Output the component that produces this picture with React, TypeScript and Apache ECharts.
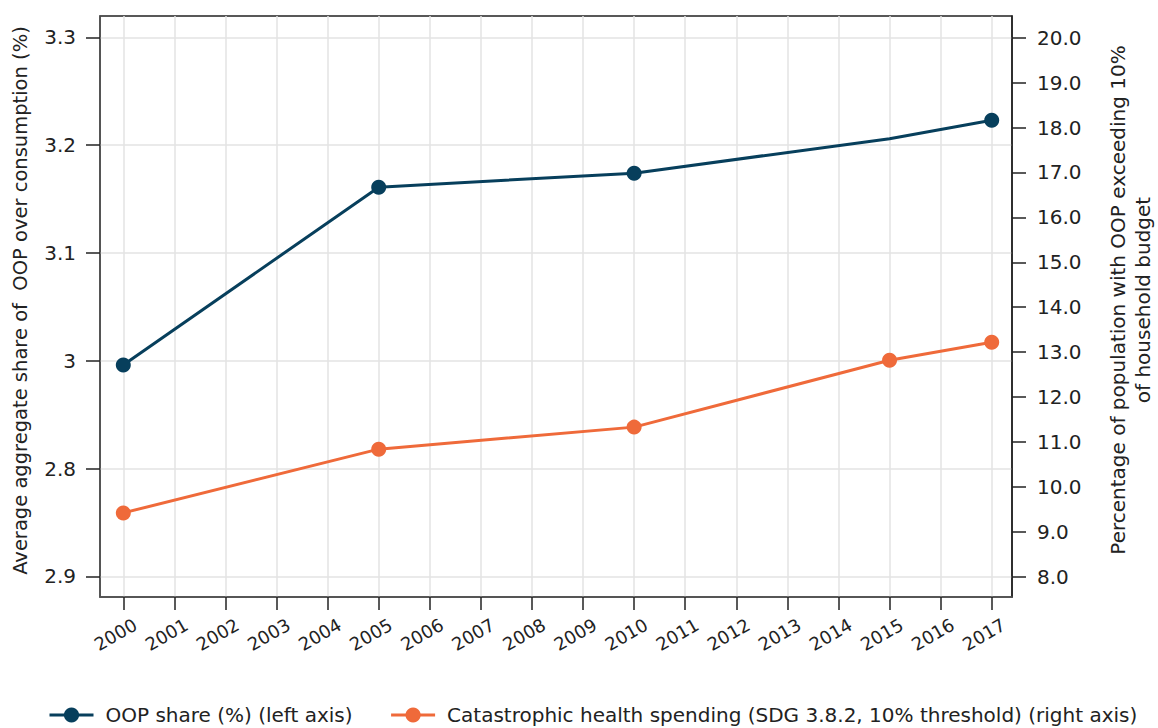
import React, { useEffect, useRef } from "react";
import * as echarts from "echarts";

const yearTicks = [2000, 2001, 2002, 2003, 2004, 2005, 2006, 2007, 2008, 2009, 2010, 2011, 2012, 2013, 2014, 2015, 2016, 2017];

const oopYears = [2000, 2005, 2010, 2015, 2017];
const oopShare = [2.996, 3.161, 3.174, 3.206, 3.223];
const oopMarked = [true, true, true, false, true];

const cheYears = [2000, 2005, 2010, 2015, 2017];
const cheValues = [9.42, 10.84, 11.33, 12.82, 13.22];

const leftTickValues = [2.8, 2.9, 3.0, 3.1, 3.2, 3.3];
const leftTickLabels = ["2.9", "2.8", "3", "3.1", "3.2", "3.3"];

const rightTickValues = [8, 9, 10, 11, 12, 13, 14, 15, 16, 17, 18, 19, 20];

const oopName = "OOP share (%) (left axis)";
const cheName = "Catastrophic health spending (SDG 3.8.2, 10% threshold) (right axis)";
const leftAxisName = "Average aggregate share of  OOP over consumption (%)";
const rightAxisName = "Percentage of population with OOP exceeding 10%\nof household budget";

const NAVY = "#073f5c";
const ORANGE = "#ef6a3a";
const FONT = "DejaVu Sans";

export default function App() {
  const ref = useRef<HTMLDivElement>(null);

  useEffect(() => {
    if (!ref.current) return;
    const chart = echarts.init(ref.current, null, { renderer: "svg" });

    const labelFor = (v: number) => {
      const i = leftTickValues.findIndex((t) => Math.abs(t - v) < 1e-6);
      return i >= 0 ? leftTickLabels[i] : "";
    };

    chart.setOption({
      animation: false,
      backgroundColor: "#ffffff",
      textStyle: { fontFamily: FONT },
      grid: {
        left: 100,
        width: 912,
        top: 16,
        height: 581,
        outerBoundsMode: "none",
        containLabel: false,
        show: true,
        borderColor: "#222",
        borderWidth: 1.5,
        backgroundColor: "transparent",
      },
      legend: {
        left: 43,
        top: 700,
        itemWidth: 44,
        itemHeight: 19,
        itemGap: 37,
        lineStyle: { width: 3 },
        textStyle: { fontFamily: FONT, fontSize: 20, color: "#222", padding: [0, 0, 0, 7] },
        data: [oopName, cheName],
      },
      xAxis: {
        type: "value",
        min: 1999.544,
        max: 2017.397,
        axisLine: { show: true, lineStyle: { color: "#555", width: 1.5 } },
        axisTick: {
          show: true,
          length: 13,
          lineStyle: { color: "#222", width: 1.5 },
          customValues: yearTicks,
        },
        axisLabel: {
          customValues: yearTicks,
          rotate: 30,
          align: "center",
          verticalAlign: "middle",
          margin: 33,
          padding: [0, 18, 0, 0],
          fontSize: 18,
          color: "#222",
          fontFamily: FONT,
          formatter: (v: number) => String(Math.round(v)),
        },
        splitLine: { show: true, lineStyle: { color: "#e3e3e3", width: 1.5 } },
      },
      yAxis: [
        {
          type: "value",
          position: "left",
          min: 2.7808,
          max: 3.3198,
          name: leftAxisName,
          nameLocation: "middle",
          nameRotate: 90,
          nameGap: 70,
          nameTextStyle: { fontFamily: FONT, fontSize: 19.5, color: "#222", padding: [0, 0, 0, 12] },
          axisLine: { show: true, lineStyle: { color: "#555", width: 1.5 } },
          axisTick: {
            show: true,
            inside: false,
            length: 14,
            lineStyle: { color: "#222", width: 1.5 },
            customValues: leftTickValues,
          },
          axisLabel: {
            customValues: leftTickValues,
            margin: 24,
            fontSize: 20,
            color: "#222",
            fontFamily: FONT,
            formatter: labelFor,
          },
          splitLine: { show: true, lineStyle: { color: "#e3e3e3", width: 1.5 } },
        },
        {
          type: "value",
          position: "right",
          min: 7.548,
          max: 20.483,
          name: rightAxisName,
          nameLocation: "middle",
          nameRotate: 90,
          nameGap: 93,
          nameTextStyle: {
            fontFamily: FONT,
            fontSize: 20,
            color: "#222",
            lineHeight: 25,
            align: "center",
            padding: [0, 0, 0, 13],
          },
          axisLine: { show: true, lineStyle: { color: "#222", width: 1.5 } },
          axisTick: {
            show: true,
            inside: false,
            length: 14,
            lineStyle: { color: "#222", width: 1.5 },
            customValues: rightTickValues,
          },
          axisLabel: {
            customValues: rightTickValues,
            margin: 25,
            fontSize: 20,
            color: "#222",
            fontFamily: FONT,
            formatter: (v: number) => v.toFixed(1),
          },
          splitLine: { show: false },
        },
      ],
      series: [
        {
          name: oopName,
          type: "line",
          yAxisIndex: 0,
          color: NAVY,
          symbol: "circle",
          symbolSize: 15,
          lineStyle: { color: NAVY, width: 3 },
          itemStyle: { color: NAVY },
          data: oopYears.map((y, i) =>
            oopMarked[i] ? { value: [y, oopShare[i]] } : { value: [y, oopShare[i]], symbol: "none" }
          ),
          z: 3,
        },
        {
          name: cheName,
          type: "line",
          yAxisIndex: 1,
          color: ORANGE,
          symbol: "circle",
          symbolSize: 15,
          lineStyle: { color: ORANGE, width: 3 },
          itemStyle: { color: ORANGE },
          data: cheYears.map((y, i) => [y, cheValues[i]]),
          z: 3,
        },
      ],
    });

    return () => chart.dispose();
  }, []);

  return (
    <div
      ref={ref}
      style={{ position: "fixed", left: 0, top: 0, width: 1158, height: 728, background: "#fff" }}
    />
  );
}
